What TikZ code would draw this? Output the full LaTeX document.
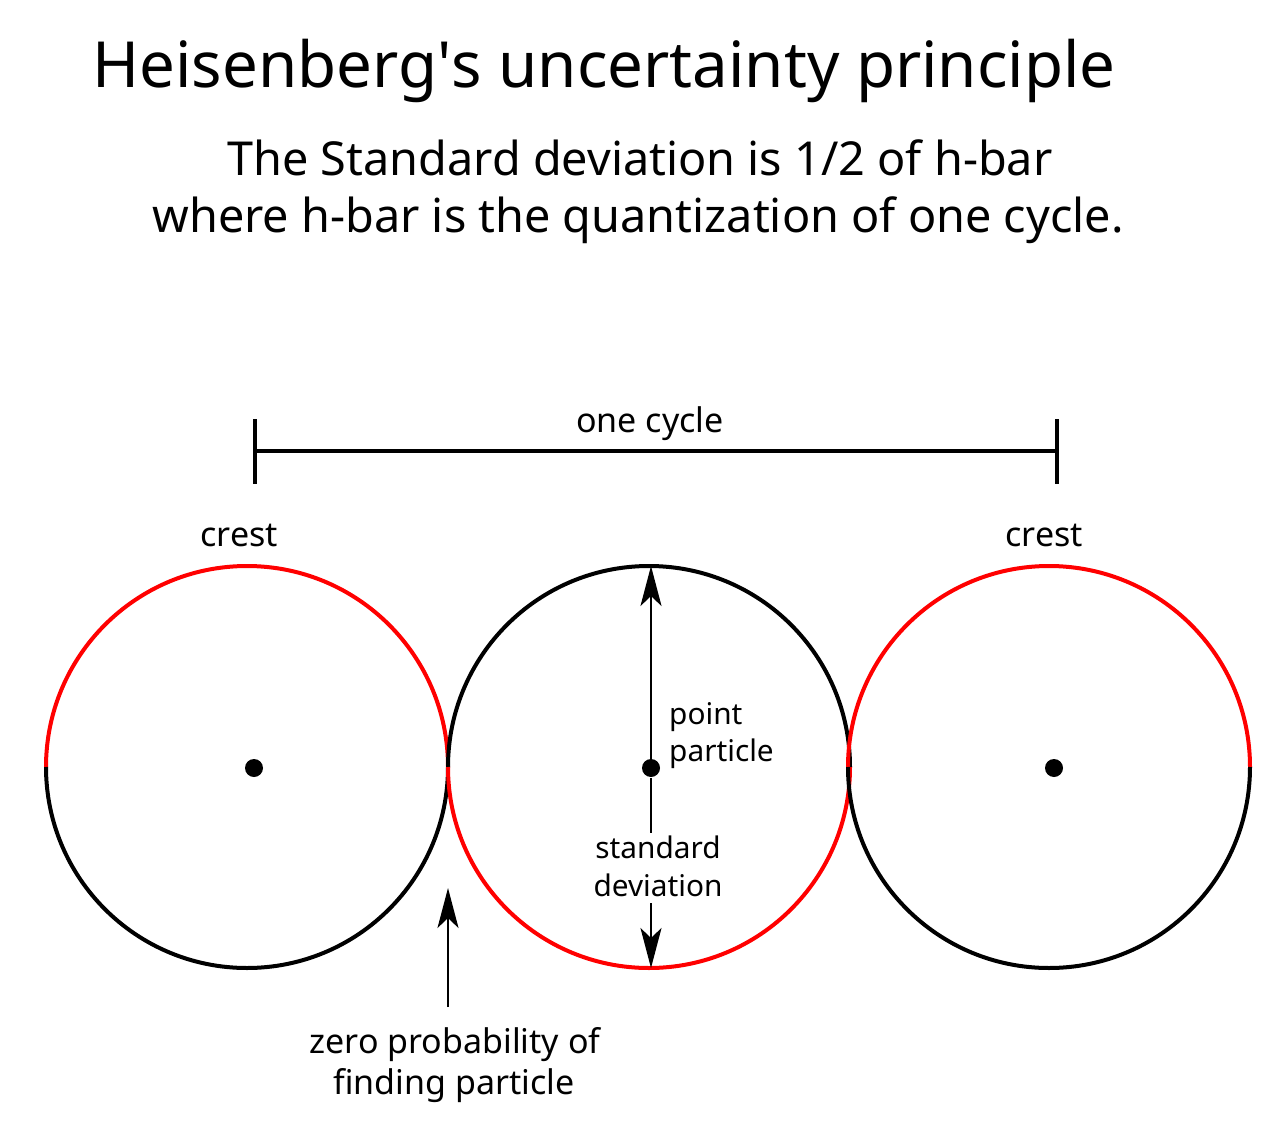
\documentclass[tikz,border=0pt]{standalone}
\usepackage{fontspec}
\setmainfont{Noto Sans}
\usetikzlibrary{arrows.meta}
\tikzset{
  ring/.style={line width=4pt},
  bar/.style={line width=4pt},
  pointer/.style={line width=2.5pt,-{Stealth[length=40pt,width=21pt,inset=10pt]}},
  plain/.style={line width=2.5pt},
  dotnode/.style={circle,fill=black,inner sep=0pt,minimum size=18pt},
  titletext/.style={anchor=base,inner sep=0pt,font=\fontsize{63.6}{76}\selectfont},
  subtext/.style={anchor=base,inner sep=0pt,font=\fontsize{46.8}{56}\selectfont},
  labeltext/.style={anchor=base,inner sep=0pt,font=\fontsize{34}{40}\selectfont},
  smalltext/.style={anchor=base,inner sep=0pt,font=\fontsize{29.8}{36}\selectfont},
}
\begin{document}
\begin{tikzpicture}[x=1pt,y=-1pt]
\useasboundingbox[fill=white] (0,0) rectangle (1280,1134);

% titles
\node[titletext] (title) at (604,88) {Heisenberg\textquotesingle s uncertainty principle};
\node[subtext] (sub1) at (640,176) {The Standard deviation is 1/2 of h-bar};
\node[subtext] (sub2) at (638,233) {where h-bar is the quantization of one cycle.};

% one cycle bar
\coordinate (barL) at (255,451);
\coordinate (barR) at (1057,451);
\draw[bar] (barL) -- (barR);
\draw[bar] (255,419) -- (255,484);
\draw[bar] (1057,419) -- (1057,484);
\node[labeltext] (cycle) at (650,432) {one cycle};

% crest labels
\node[labeltext] (crestL) at (239,546) {crest};
\node[labeltext] (crestR) at (1044,546) {crest};

% circles
\draw[ring,red]   (46,767) arc[start angle=180,end angle=360,radius=201];
\draw[ring,black] (448,767) arc[start angle=0,end angle=180,radius=201];

\draw[ring,black] (448,767) arc[start angle=180,end angle=360,radius=201];
\draw[ring,red]   (850,767) arc[start angle=0,end angle=180,radius=201];

\draw[ring,red]   (848,767) arc[start angle=180,end angle=360,radius=201];
\draw[ring,black] (1250,767) arc[start angle=0,end angle=180,radius=201];

% dots
\node[dotnode] (dotL) at (254,768) {};
\node[dotnode] (dotM) at (651,768) {};
\node[dotnode] (dotR) at (1054,768) {};

% middle arrows
\coordinate (mtop) at (651,566);
\coordinate (mbot) at (651,968);
\coordinate (sdtop) at (651,833);
\coordinate (sdbot) at (651,903);
\draw[pointer] (dotM.center) -- (mtop);
\draw[plain] (dotM.south) ++(0,1) -- (sdtop);
\draw[pointer] (sdbot) -- (mbot);

\node[smalltext,anchor=base west] (pt1) at (669,724) {point};
\node[smalltext,anchor=base west] (pt2) at (669,761) {particle};
\node[smalltext] (sd1) at (658,858) {standard};
\node[smalltext] (sd2) at (658,896) {deviation};

% zero probability arrow
\coordinate (ztail) at (448,1007);
\coordinate (ztip) at (448,888);
\draw[pointer] (ztail) -- (ztip);
\node[labeltext] (z1) at (455,1053) {zero probability of};
\node[labeltext] (z2) at (454,1094) {finding particle};
\end{tikzpicture}
\end{document}
